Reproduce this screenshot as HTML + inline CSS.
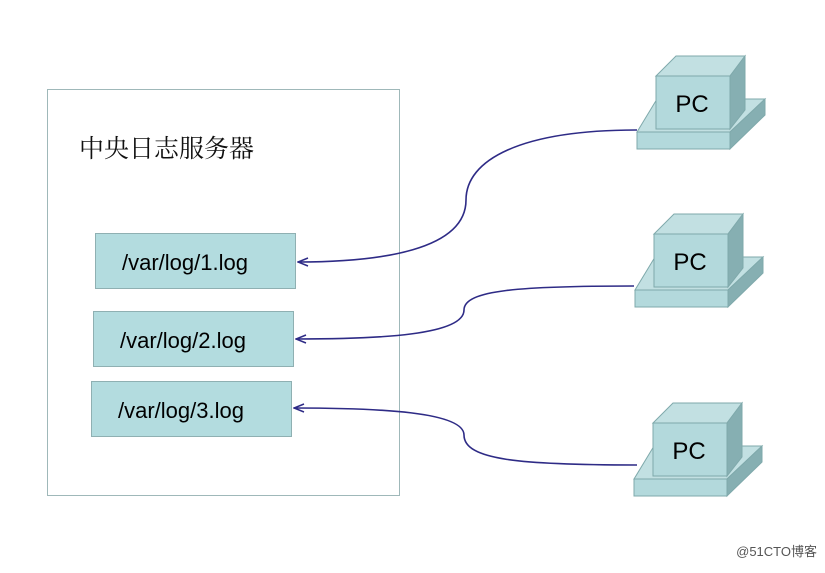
<!DOCTYPE html>
<html><head><meta charset="utf-8"><style>body{margin:0;background:#fff}</style></head><body>
<svg width="825" height="568" xmlns="http://www.w3.org/2000/svg" font-family="Liberation Sans, Arial, sans-serif">
<defs>
<g id="pc">
<polygon points="637,132 730,132 765,99 657,99" fill="#c2e0e2" stroke="#7fa9ab"/>
<polygon points="637,132 730,132 730,149 637,149" fill="#b3d9dc" stroke="#7fa9ab"/>
<polygon points="730,132 765,99 765,115 730,149" fill="#86afb2" stroke="#7fa9ab"/>
<polygon points="656,76 730,76 745,56 676,56" fill="#c2e0e2" stroke="#7fa9ab"/>
<polygon points="656,76 730,76 730,129 656,129" fill="#b3d9dc" stroke="#7fa9ab"/>
<polygon points="730,76 745,56 745,110 730,129" fill="#86afb2" stroke="#7fa9ab"/>
<text x="692" y="112" font-size="24" text-anchor="middle" fill="#000">PC</text>
</g>
<marker id="a" markerWidth="12" markerHeight="10" refX="11" refY="5" orient="auto" markerUnits="userSpaceOnUse"><path d="M1,1 L11,5 L1,9" fill="none" stroke="#2e2b86" stroke-width="1.5"/></marker>
</defs>
<rect x="47.5" y="89.5" width="352" height="406" fill="#fff" stroke="#9fb8b9"/>
<text x="79" y="157" font-size="25" font-family="Liberation Serif, Noto Serif CJK SC, serif" fill="#111">中央日志服务器</text>
<rect x="95.5" y="233.5" width="200" height="55" fill="#b3dcdf" stroke="#8fb0b2"/>
<text x="122" y="270" font-size="22">/var/log/1.log</text>
<rect x="93.5" y="311.5" width="200" height="55" fill="#b3dcdf" stroke="#8fb0b2"/>
<text x="120" y="348" font-size="22">/var/log/2.log</text>
<rect x="91.5" y="381.5" width="200" height="55" fill="#b3dcdf" stroke="#8fb0b2"/>
<text x="118" y="418" font-size="22">/var/log/3.log</text>
<use href="#pc"/>
<use href="#pc" transform="translate(-2,158)"/>
<use href="#pc" transform="translate(-3,347)"/>
<g fill="none" stroke="#2e2b86" stroke-width="1.6">
<path d="M637,130 C520,130 466,160 466,200 C466,250 380,262 298,262" marker-end="url(#a)"/>
<path d="M634,286 C520,286 464,290 464,310 C464,335 380,339 296,339" marker-end="url(#a)"/>
<path d="M637,465 C520,465 464,460 464,435 C464,412 380,408 294,408" marker-end="url(#a)"/>
</g>
<text x="817" y="556" font-size="13" text-anchor="end" font-family="Liberation Sans, Noto Sans CJK SC, sans-serif" fill="#555">@51CTO博客</text>
</svg>
</body></html>
